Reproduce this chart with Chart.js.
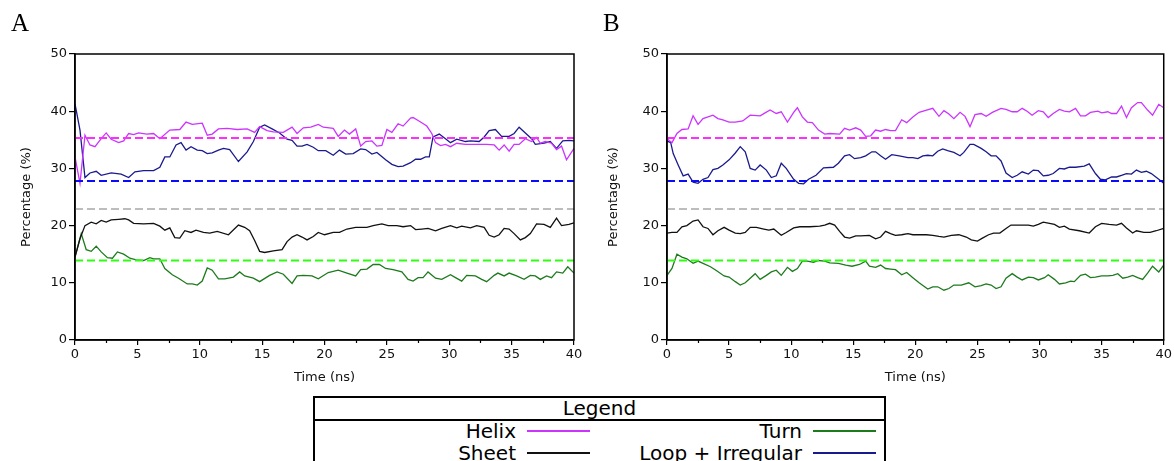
<!DOCTYPE html>
<html>
<head>
<meta charset="utf-8">
<script src="https://cdn.jsdelivr.net/npm/chart.js@4/dist/chart.umd.min.js"></script>
<style>
  body { margin: 0; width: 1174px; height: 461px; overflow: hidden; background: #fff; font-family: "DejaVu Sans", sans-serif; }
  .panel { position: absolute; top: 0; width: 587px; height: 395px; }
  .tag { position: absolute; font-family: "Liberation Serif", serif; font-size: 25px; color: #000; }
  #legend { position: absolute; left: 313px; top: 396px; width: 569px; height: 80px; border: 2px solid #000; }
  #legend .head { height: 21px; border-bottom: 2px solid #000; text-align: center; font-size: 20px; line-height: 20px; }
  .entry { position: absolute; height: 22px; font-size: 20px; line-height: 20px; }
  .entry span { position: absolute; right: 85px; white-space: nowrap; }
  .entry i { position: absolute; right: 11px; top: 9px; width: 63px; height: 2px; }
</style>
</head>
<body>
<div class="panel" style="left:0"><canvas id="chartA"></canvas></div>
<div class="panel" style="left:587px"><canvas id="chartB"></canvas></div>
<div class="tag" style="left:11px; top:9px">A</div>
<div class="tag" style="left:603px; top:9px">B</div>
<div id="legend"><div class="head">Legend</div></div>

<script>
// [time (ns), percentage]
const helixA = [[0,32.0],[0.4,27.4],[0.8,35.8],[1.2,34.1],[1.6,33.8],[2.1,35.2],[2.5,36.2],[2.9,35.1],[3.5,34.5],[3.9,34.8],[4.3,36.1],[4.7,35.9],[5.1,36.2],[5.75,36.0],[6.3,36.1],[6.8,35.2],[7.6,36.7],[8.4,36.8],[8.9,38.1],[9.4,37.7],[10.2,37.9],[10.6,35.8],[11.0,36.0],[11.5,36.9],[12.2,37.0],[13.0,36.8],[13.8,36.9],[14.4,36.3],[14.8,37.3],[15.4,36.6],[15.9,36.4],[16.7,36.3],[17.4,37.2],[17.8,36.1],[18.3,37.1],[18.9,37.2],[19.5,37.7],[19.9,37.2],[20.7,37.0],[21.1,35.6],[21.6,36.7],[22.0,36.0],[22.5,36.9],[22.9,33.9],[23.3,34.7],[23.8,34.8],[24.2,33.9],[24.6,34.0],[25.0,36.8],[25.4,36.3],[25.9,37.8],[26.3,37.4],[26.9,38.8],[27.1,38.9],[27.7,38.1],[28.2,37.4],[28.6,36.1],[28.9,34.5],[29.3,34.0],[29.7,34.2],[30.1,33.8],[30.6,34.4],[31.3,34.2],[32.0,34.2],[33.0,34.2],[33.6,34.1],[34.0,33.2],[34.4,34.1],[34.8,33.0],[35.2,34.2],[35.6,34.2],[36.1,35.2],[36.6,34.7],[37.0,35.4],[37.3,34.4],[37.7,34.7],[38.2,34.4],[38.6,33.3],[39.0,33.9],[39.4,31.5],[40,33.5]];
const sheetA = [[0,14.5],[0.4,17.7],[0.8,20.0],[1.3,20.6],[1.7,20.3],[2.1,20.9],[2.5,20.6],[2.9,21.0],[3.5,21.1],[4.0,21.2],[4.3,21.0],[4.7,20.4],[5.5,20.3],[6.3,20.4],[6.8,19.9],[7.2,19.2],[7.6,19.6],[8.0,17.9],[8.4,17.8],[8.8,19.1],[9.3,18.8],[9.7,19.2],[10.3,18.8],[10.8,18.7],[11.4,19.0],[12.3,18.4],[13.1,20.1],[13.6,19.7],[14.0,19.1],[14.4,17.4],[14.8,15.5],[15.2,15.3],[15.9,15.6],[16.6,15.8],[17.0,17.2],[17.4,18.0],[17.8,18.4],[18.2,18.0],[18.6,17.5],[19.1,18.1],[19.5,18.8],[20.0,18.4],[20.7,18.8],[21.2,18.8],[21.8,19.4],[22.5,19.7],[23.4,19.7],[23.9,20.0],[24.6,20.3],[25.1,20.0],[25.8,20.0],[26.3,19.8],[26.9,20.0],[27.3,19.3],[27.8,19.4],[28.3,19.5],[28.9,19.1],[29.4,19.5],[30.1,20.0],[30.6,19.6],[31.0,19.9],[31.7,19.6],[32.2,20.0],[32.8,19.7],[33.2,18.3],[33.6,18.0],[34.0,18.4],[34.4,19.5],[34.8,19.4],[35.2,18.6],[35.7,17.5],[36.1,17.9],[36.5,18.6],[37.0,20.3],[37.6,20.2],[38.1,19.7],[38.6,21.3],[39.0,20.0],[39.6,20.2],[40,20.5]];
const turnA = [[0,14.5],[0.5,18.6],[0.9,15.8],[1.3,15.5],[1.7,16.4],[2.1,15.4],[2.6,14.4],[3.0,14.3],[3.4,15.4],[3.9,15.0],[4.4,14.3],[4.9,14.0],[5.5,13.9],[6.0,14.4],[6.3,14.2],[6.8,14.2],[7.2,12.5],[7.8,11.4],[8.3,10.8],[9.0,9.8],[9.4,9.8],[9.8,9.6],[10.2,10.3],[10.6,12.6],[11.0,12.2],[11.5,10.7],[12.0,10.7],[12.7,11.0],[13.2,11.9],[13.6,11.2],[14.3,10.8],[14.8,10.2],[15.6,11.3],[16.2,11.9],[16.7,11.5],[17.4,9.9],[17.8,11.2],[18.3,11.3],[19.0,11.2],[19.5,10.7],[20.3,11.8],[21.1,12.2],[21.8,11.7],[22.5,11.2],[22.9,12.3],[23.4,12.4],[23.9,13.2],[24.4,13.2],[24.9,12.5],[25.5,12.3],[26.2,11.9],[26.7,10.6],[27.1,10.3],[27.5,10.9],[27.9,10.9],[28.3,11.9],[28.9,10.8],[29.4,10.6],[30.1,11.4],[30.5,10.9],[31.0,10.3],[31.4,11.3],[32.1,11.2],[32.6,10.6],[33.0,10.2],[33.6,11.3],[33.9,11.7],[34.4,11.2],[34.8,11.7],[35.4,11.2],[36.0,10.6],[36.5,11.3],[36.9,11.2],[37.3,10.6],[37.8,11.2],[38.2,10.9],[38.6,11.9],[39.1,11.7],[39.5,12.8],[40,11.7]];
const loopA = [[0,41.3],[0.4,36.7],[0.8,28.4],[1.2,29.2],[1.7,29.5],[2.1,28.8],[2.9,29.2],[3.7,29.0],[4.3,28.4],[4.8,29.4],[5.5,29.6],[6.3,29.6],[6.8,30.2],[7.2,32.0],[7.6,32.0],[8.1,34.1],[8.5,34.5],[8.9,33.2],[9.3,33.8],[9.8,33.2],[10.2,33.1],[10.6,32.6],[11.0,32.7],[11.5,33.2],[11.9,33.5],[12.4,33.3],[13.1,31.2],[13.8,32.9],[14.3,34.7],[14.8,37.2],[15.2,37.6],[15.8,36.9],[16.4,36.2],[17.0,35.1],[17.4,34.9],[17.8,33.9],[18.2,33.9],[18.6,34.2],[19.1,33.7],[19.5,33.1],[20.1,33.1],[20.7,32.3],[21.2,33.2],[21.7,32.5],[22.3,32.6],[22.9,33.4],[23.3,33.3],[23.8,32.5],[24.2,32.8],[24.9,31.5],[25.4,30.7],[25.9,30.3],[26.3,30.4],[26.9,31.0],[27.3,31.6],[27.7,31.6],[28.1,32.0],[28.4,32.0],[28.7,35.5],[29.2,36.0],[29.7,35.2],[30.1,34.5],[30.6,35.1],[31.3,34.7],[31.7,34.8],[32.4,34.7],[32.8,35.5],[33.2,36.6],[33.7,36.8],[34.2,35.6],[34.8,35.6],[35.2,36.1],[35.6,37.2],[36.1,36.2],[36.6,35.2],[36.9,34.2],[37.6,34.4],[38.1,34.7],[38.6,33.5],[39.1,34.8],[39.6,34.9],[40,34.8]];

const helixB = [[0,35.2],[0.4,34.5],[0.8,36.1],[1.2,36.8],[1.7,36.9],[2.1,39.2],[2.5,37.7],[2.9,38.7],[3.7,39.3],[4.1,38.7],[4.5,38.5],[5.0,38.1],[5.5,38.1],[6.1,38.3],[6.7,39.3],[7.5,39.2],[7.9,39.7],[8.3,40.2],[8.8,39.6],[9.2,39.9],[9.7,38.1],[10.2,39.8],[10.5,40.6],[10.9,39.0],[11.3,38.1],[11.7,38.0],[12.2,36.7],[12.7,36.0],[13.1,36.1],[13.9,36.0],[14.3,37.0],[14.7,36.7],[15.2,37.1],[15.6,36.7],[16.0,35.6],[16.4,35.7],[16.8,36.7],[17.2,36.5],[17.6,36.8],[18.0,36.6],[18.4,36.6],[18.9,38.5],[19.3,38.0],[19.8,39.0],[20.3,39.8],[20.9,40.2],[21.4,40.5],[21.9,39.1],[22.3,40.1],[22.7,39.5],[23.1,38.7],[23.6,39.8],[24.0,39.1],[24.4,37.3],[24.8,39.4],[25.3,39.6],[25.7,39.1],[26.2,39.8],[26.9,40.5],[27.3,40.3],[27.8,39.9],[28.2,39.9],[28.6,40.5],[29.0,40.0],[29.4,39.3],[29.9,40.1],[30.3,39.9],[30.7,38.9],[31.1,39.6],[31.6,40.3],[32.0,40.0],[32.4,39.9],[32.9,40.5],[33.3,39.2],[33.7,39.2],[34.1,39.8],[34.7,40.0],[35.0,39.7],[35.5,39.9],[35.8,39.6],[36.2,39.6],[36.6,40.9],[37.0,38.9],[37.4,40.6],[37.9,41.5],[38.2,41.5],[38.7,40.2],[39.1,39.3],[39.6,41.2],[40,40.6]];
const sheetB = [[0,18.7],[0.4,18.8],[0.8,18.8],[1.2,19.8],[1.6,20.0],[2.1,20.8],[2.5,21.0],[2.9,19.8],[3.3,19.5],[3.7,18.4],[4.1,19.1],[4.6,19.7],[5.0,19.2],[5.5,18.7],[5.9,18.6],[6.3,18.8],[6.7,19.7],[7.2,19.7],[7.8,19.4],[8.2,19.2],[8.6,19.4],[9.2,18.3],[9.6,18.8],[10.2,19.6],[10.7,19.8],[11.5,19.8],[12.3,19.9],[12.7,20.1],[13.1,20.4],[13.5,20.1],[13.9,19.0],[14.3,18.0],[14.7,17.8],[15.2,18.2],[15.6,18.2],[16.3,18.3],[16.8,17.7],[17.2,18.0],[17.6,19.0],[18.0,18.6],[18.4,18.3],[18.9,18.4],[19.4,18.6],[19.8,18.4],[20.3,18.4],[20.9,18.4],[21.4,18.3],[21.9,18.1],[22.3,18.0],[22.9,18.3],[23.5,18.4],[24.1,18.0],[24.5,17.5],[25.0,17.3],[25.4,17.8],[25.9,18.4],[26.3,18.7],[26.8,18.7],[27.3,19.5],[27.7,20.1],[28.2,20.1],[28.6,20.1],[29.1,20.1],[29.5,19.9],[29.9,20.2],[30.3,20.6],[30.8,20.4],[31.2,20.2],[31.6,19.7],[32.0,19.9],[32.4,19.4],[33.2,19.1],[34.0,18.7],[34.5,19.8],[35.0,20.4],[35.6,20.2],[36.2,20.1],[36.6,20.4],[37.0,19.6],[37.5,18.7],[37.8,19.1],[38.4,18.8],[38.9,18.8],[39.4,19.1],[40,19.5]];
const turnB = [[0,11.3],[0.4,12.5],[0.8,15.0],[1.2,14.5],[1.6,14.2],[2.1,13.4],[2.5,13.8],[2.9,13.4],[3.5,12.8],[4.0,12.1],[4.6,11.2],[5.0,11.0],[5.5,10.2],[5.9,9.6],[6.3,10.0],[6.7,10.8],[7.1,11.6],[7.5,10.6],[8.0,11.3],[8.4,11.9],[8.8,12.2],[9.2,11.3],[9.7,12.7],[10.1,12.0],[10.5,12.5],[10.9,13.8],[11.3,13.8],[11.8,13.6],[12.2,13.9],[12.7,13.8],[13.1,13.5],[13.8,13.4],[14.4,13.1],[14.9,12.9],[15.5,13.2],[16.0,13.8],[16.3,12.9],[16.8,12.7],[17.2,13.1],[17.6,12.5],[18.0,12.4],[18.4,12.3],[18.9,11.4],[19.3,11.8],[19.8,10.9],[20.3,10.0],[21.0,8.9],[21.4,9.3],[21.8,9.3],[22.3,8.7],[22.7,9.0],[23.1,9.6],[23.7,9.6],[24.3,10.0],[24.8,9.3],[25.3,9.5],[25.7,9.8],[26.1,9.6],[26.5,9.0],[26.9,9.3],[27.3,10.8],[27.8,11.6],[28.2,11.0],[28.6,10.5],[29.1,11.0],[29.5,10.9],[29.9,10.5],[30.4,10.9],[30.7,11.4],[31.2,10.6],[31.6,9.8],[32.1,10.0],[32.5,10.3],[32.8,10.2],[33.3,11.3],[33.7,11.5],[34.1,10.9],[34.5,11.0],[35.0,11.2],[35.5,11.2],[35.9,11.3],[36.3,11.6],[36.7,10.8],[37.1,11.0],[37.5,11.3],[37.9,10.9],[38.3,10.6],[38.7,11.7],[39.1,12.9],[39.6,11.9],[40,13.1]];
const loopB = [[0,34.8],[0.3,34.5],[0.5,32.6],[0.9,30.6],[1.3,28.7],[1.7,29.0],[2.1,27.6],[2.5,27.4],[2.9,28.1],[3.3,28.4],[3.7,29.8],[4.1,30.0],[4.5,30.6],[5.0,31.5],[5.5,32.7],[5.9,33.8],[6.3,32.9],[6.7,30.0],[7.1,29.7],[7.5,30.6],[8.0,29.7],[8.4,28.4],[8.8,28.7],[9.2,30.9],[9.6,30.0],[10.2,28.1],[10.6,27.4],[11.0,27.3],[11.4,28.1],[12.0,28.8],[12.6,30.1],[13.4,30.2],[13.8,30.9],[14.3,32.2],[14.7,32.4],[15.1,31.7],[15.6,31.9],[16.0,32.2],[16.5,32.9],[16.8,32.9],[17.2,32.2],[17.6,31.6],[18.1,32.4],[18.7,32.2],[19.4,31.9],[19.8,31.9],[20.2,31.7],[20.6,32.2],[21.0,32.3],[21.4,32.2],[21.8,33.0],[22.2,33.4],[22.6,33.1],[23.1,32.8],[23.6,32.2],[23.9,32.8],[24.4,34.2],[24.7,34.2],[25.3,33.5],[25.7,32.9],[26.1,32.2],[26.5,32.2],[26.9,31.3],[27.3,29.2],[27.8,28.4],[28.2,28.8],[28.6,29.4],[29.1,29.0],[29.5,29.7],[29.9,29.6],[30.3,28.7],[30.7,28.8],[31.1,29.1],[31.6,30.0],[32.0,29.9],[32.4,30.2],[32.9,30.2],[33.6,30.4],[34.0,30.8],[34.5,29.1],[34.9,28.1],[35.3,28.0],[35.8,28.5],[36.2,28.5],[36.6,28.8],[37.0,29.1],[37.4,29.0],[37.8,29.7],[38.2,29.3],[38.6,29.5],[39.0,29.1],[39.6,28.1],[40,27.4]];

// mean levels shown as dashed lines (helix, loop, reference, turn)
const refNames = ['Helix mean', 'Loop mean', 'Reference', 'Turn mean'];
const refLevels = [35.3, 27.8, 22.9, 13.9];
const refColors = ['#ff2eff', '#0a0aff', '#bdbdbd', '#2cff10'];

const seriesNames = ['Helix', 'Sheet', 'Turn', 'Loop + Irregular'];
const seriesColors = ['#cc33ff', '#111111', '#1d7a1d', '#1a1a8f'];
const timeRange = [0, 40];
const minorTimeTicks = [2.5, 7.5, 12.5, 17.5, 22.5, 27.5, 32.5, 37.5];

// closes the box on top/right and adds the short minor ticks under the x axis
const frameBox = {
    id: 'frameBox',
    afterDraw(chart) {
        const { ctx, chartArea: a } = chart;
        const x = chart.scales.x;
        ctx.save();
        ctx.strokeStyle = '#000';
        ctx.lineWidth = 1.5;
        ctx.strokeRect(a.left, a.top, a.right - a.left, a.bottom - a.top);
        ctx.lineWidth = 1.2;
        ctx.beginPath();
        minorTimeTicks.forEach(t => {
            const px = Math.round(x.getPixelForValue(t)) + 0.5;
            ctx.moveTo(px, a.bottom);
            ctx.lineTo(px, a.bottom + 3);
        });
        ctx.stroke();
        ctx.restore();
    }
};

const makePanel = (canvasId, series, yWidth, padRight) => {
    const datasets = [];
    refLevels.forEach((level, i) => {
        datasets.push({
            label: refNames[i],
            data: timeRange.map(t => [t, level]),
            borderColor: refColors[i],
            borderWidth: 2,
            borderDash: [8, 4],
            pointRadius: 0,
            order: 1
        });
    });
    series.forEach((points, i) => {
        datasets.push({
            label: seriesNames[i],
            data: points,
            borderColor: seriesColors[i],
            borderWidth: 1.3,
            pointRadius: 0,
            tension: 0,
            order: 2
        });
    });

    const font13 = { family: 'DejaVu Sans', size: 13 };
    return new Chart(document.getElementById(canvasId), {
        type: 'line',
        data: { datasets },
        options: {
            responsive: false,
            animation: false,
            layout: { padding: { top: 54, right: padRight, bottom: 10, left: 0 } },
            plugins: { legend: { display: false }, tooltip: { enabled: false } },
            scales: {
                x: {
                    type: 'linear',
                    min: 0,
                    max: 40,
                    afterFit: s => { s.height = 45; },
                    ticks: { stepSize: 5, autoSkip: false, maxRotation: 0, color: '#111', font: font13, padding: 2 },
                    grid: { drawOnChartArea: false, tickLength: 5, color: '#000', lineWidth: 1.2 },
                    border: { display: true, color: '#000', width: 1.5 },
                    title: { display: true, text: 'Time (ns)', color: '#111', font: font13, padding: 0 }
                },
                y: {
                    min: 0,
                    max: 50,
                    afterFit: s => { s.width = yWidth; },
                    ticks: { stepSize: 10, color: '#111', font: font13, padding: 2 },
                    grid: { drawOnChartArea: false, tickLength: 6, color: '#000', lineWidth: 1.2 },
                    border: { display: true, color: '#000', width: 1.5 },
                    title: { display: true, text: 'Percentage (%)', color: '#111', font: font13, padding: { top: 19 } }
                }
            }
        },
        plugins: [frameBox]
    });
};

['chartA', 'chartB'].forEach(id => {
    const c = document.getElementById(id);
    c.width = 587;
    c.height = 395;
});

makePanel('chartA', [helixA, sheetA, turnA, loopA], 75, 13);
makePanel('chartB', [helixB, sheetB, turnB, loopB], 80, 10);

// legend box: two columns, text right-aligned next to a short line sample
const legend = document.getElementById('legend');
seriesNames.forEach((name, i) => {
    const col = i < 2 ? 0 : 1;
    const row = i % 2;
    const el = document.createElement('div');
    el.className = 'entry';
    el.style.left = (col * 286) + 'px';
    el.style.width = '286px';
    el.style.top = (23 + row * 22) + 'px';
    el.innerHTML = `<span>${name}</span><i style="background:${seriesColors[i]}"></i>`;
    legend.appendChild(el);
});
</script>
</body>
</html>
